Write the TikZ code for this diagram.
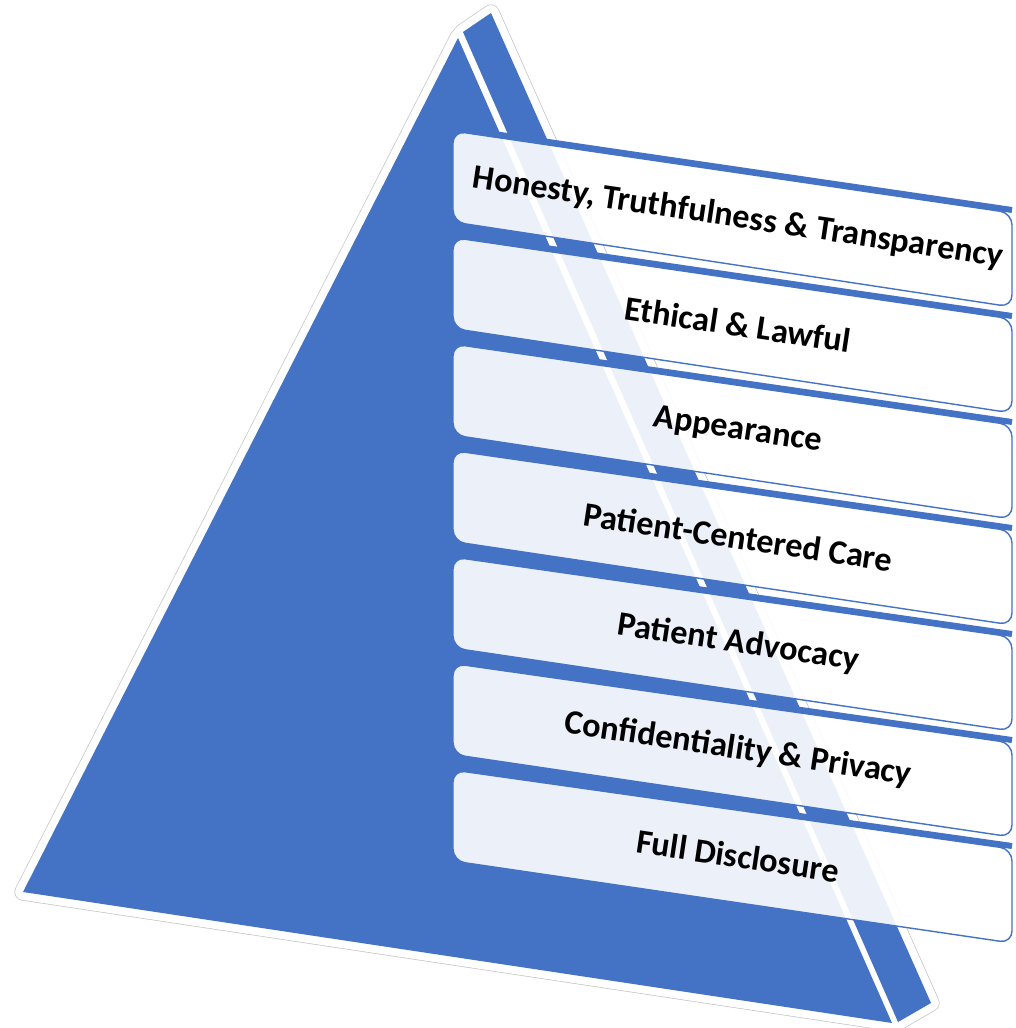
\documentclass[tikz,border=0pt]{standalone}
\usepackage{fontspec}
\setmainfont{Carlito}
\usetikzlibrary{calc}
\definecolor{pblue}{HTML}{4472C4}
\definecolor{halo}{HTML}{C4C4C4}
\begin{document}
\begin{tikzpicture}[x=1pt,y=-1pt,
  lvl/.style={fill=white, fill opacity=0.9, draw=pblue, line width=1.4pt, rounded corners=12pt},
  topstrip/.style={draw=pblue, line width=6pt},
  face/.style={fill=pblue},
  lbl/.style={font=\fontsize{34.2}{40}\selectfont\bfseries, rotate=-8.5, inner sep=0pt, text=black}]
\useasboundingbox (0,0) rectangle (1015,1028);
% pyramid corners
\coordinate (A) at (458,38);
\coordinate (B) at (23,892);
\coordinate (C) at (892,1023);
\coordinate (D) at (463,32);
\coordinate (E) at (491,13);
\coordinate (F) at (931,1003);
\coordinate (G) at (898,1022);
% halo outline
\draw[halo, line width=17.2pt, line join=round] (B)--(A)--(D)--(E)--(F)--(G)--(C)--cycle;
\draw[white, line width=15.8pt, line join=round] (B)--(A)--(D)--(E)--(F)--(G)--(C)--cycle;
\fill[white] (B)--(A)--(D)--(E)--(F)--(G)--(C)--cycle;
% faces
\fill[face] (A)--(B)--(C)--cycle;
\fill[face] (D)--(E)--(F)--(G)--cycle;
% level boxes
\foreach \i in {0,...,6}{
  \pgfmathsetmacro\tl{131+106.5*\i}
  \pgfmathsetmacro\bl{222+106.5*\i}
  \pgfmathsetmacro\tr{213+106*\i}
  \pgfmathsetmacro\br{307+106*\i}
  \coordinate (TL\i) at (453,\tl);
  \coordinate (TR\i) at (1012,\tr);
  \coordinate (BR\i) at (1012,\br);
  \coordinate (BL\i) at (453,\bl);
  \draw[lvl] (TL\i) -- (TR\i) -- (BR\i) -- (BL\i) -- cycle;
  \draw[topstrip] ($(TL\i)!0.03!(TR\i)+(0,-3)$) -- ($(TR\i)+(0,-3)$);
}
% labels
\node[lbl] (t1) at (738,218) {Honesty, Truthfulness \& Transparency};
\node[lbl] (t2) at (738,324.3) {Ethical \& Lawful};
\node[lbl] (t3) at (738,430.6) {Appearance};
\node[lbl] (t4) at (738,536.9) {Patient-Centered Care};
\node[lbl] (t5) at (738,643.2) {Patient Advocacy};
\node[lbl] (t6) at (738,749.5) {Confidentiality \& Privacy};
\node[lbl] (t7) at (738,855.8) {Full Disclosure};
\end{tikzpicture}
\end{document}
